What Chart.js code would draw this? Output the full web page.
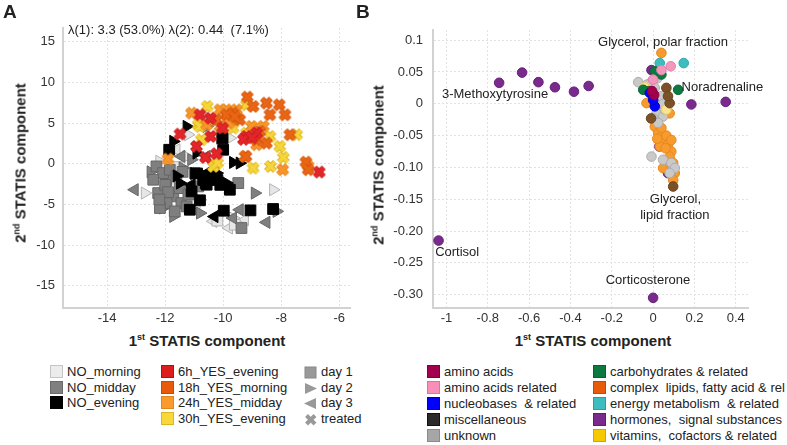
<!DOCTYPE html>
<html>
<head>
<meta charset="utf-8">
<script src="https://cdn.jsdelivr.net/npm/chart.js@4.4.1/dist/chart.umd.min.js"></script>
<style>
body { margin: 0; background: #fff; font-family: "Liberation Sans", Arial, sans-serif; color: #222; }
#wrap { position: relative; width: 787px; height: 445px; overflow: hidden; }
canvas, .abs { position: absolute; }
.panel { font-weight: bold; font-size: 19px; }
.atitle { font-weight: bold; font-size: 15px; white-space: nowrap; }
.atitle sup { font-size: 9px; vertical-align: 6px; line-height: 0; }
.vt { transform: translate(-50%, -50%) rotate(-90deg); }
.ht { transform: translate(-50%, -50%); }
.leg { font-size: 13px; white-space: pre; line-height: 16px; }
.sw { display: inline-block; width: 11px; height: 11px; border: 1px solid; vertical-align: -2px; margin-right: 4px; }
.leg svg { vertical-align: -3px; margin-right: 3px; }
</style>
</head>
<body>
<div id="wrap">
  <canvas id="chartA" width="390" height="330" style="left:0;top:0"></canvas>
  <canvas id="chartB" width="397" height="330" style="left:390px;top:0"></canvas>
  <div class="abs panel" style="left:3px;top:1px">A</div>
  <div class="abs panel" style="left:356px;top:1px">B</div>
  <div class="abs" style="left:68px;top:22px;font-size:13px;white-space:pre">λ(1): 3.3 (53.0%) λ(2): 0.44  (7.1%)</div>
  <div class="abs atitle ht" style="left:207px;top:340px">1<sup>st</sup> STATIS component</div>
  <div class="abs atitle ht" style="left:593px;top:340px">1<sup>st</sup> STATIS component</div>
  <div class="abs atitle vt" style="left:20px;top:163px">2<sup>nd</sup> STATIS component</div>
  <div class="abs atitle vt" style="left:378px;top:165px">2<sup>nd</sup> STATIS component</div>
  <div id="legends"></div>
</div>
<script>
// ---- panel A: ticks
const xTicksA = [-14, -12, -10, -8, -6];
const yTicksA = [-15, -10, -5, 0, 5, 10, 15];

// ---- panel A: controls (day 1 = square, day 2 = right triangle, day 3 = left triangle)
const noMorningDay1 = [[-11.95,-1.97],[-10.98,-4.84],[-10.2,-7.0],[-9.6,-7.5],[-11.6,-0.4]];
const noMorningDay2 = [[-12.7,-3.61],[-11.21,3.57],[-9.77,3.16],[-8.28,-3.2],[-11.26,0.9],[-10.92,-1.15],[-9.66,-6.68],[-10.8,-4.43],[-12.2,0.3]];
const noMorningDay3 = [[-11.61,1.72],[-10.34,-7.09],[-9.25,-6.89],[-9.8,-7.9]];
const noMiddayDay1 = [[-12.3,-0.33],[-12.07,-1.15],[-11.84,-0.74],[-11.61,-1.56],[-12.41,-1.97],[-12.24,-3.61],[-11.72,-4.02],[-11.95,-4.84],[-11.44,-4.84],[-11.26,-5.25],[-12.18,-5.45],[-11.67,-5.86],[-10.86,-2.79],[-10.98,-1.15],[-9.48,-2.38],[-9.37,-7.91],[-12.0,-2.6],[-11.5,-3.0],[-11.2,-3.8],[-11.9,-3.5],[-12.2,-4.4],[-11.4,-1.0]];
const noMiddayDay2 = [[-10.57,4.59],[-10.11,3.16],[-8.91,-3.61],[-8.16,-5.86],[-12.07,-5.45],[-10.8,-6.07],[-11.72,-6.48],[-12.5,-1.0],[-11.4,-0.5],[-11.1,0.5]];
const noMiddayDay3 = [[-13.05,-3.2],[-9.43,-5.66],[-8.51,-7.21],[-9.66,-6.68],[-11.44,0.9],[-10.57,0.9],[-11.9,-2.0]];
const noEveningDay1 = [[-10.02,3.16],[-10.0,1.72],[-11.86,1.72],[-10.34,-1.15],[-10.5,-1.5],[-10.2,-2.0],[-10.6,-2.4],[-10.1,-2.6],[-11.09,-3.4],[-11.15,-5.66],[-9.77,-3.2],[-9.98,-5.78],[-9.06,-5.74],[-8.28,-5.57],[-10.8,-4.5],[-10.69,-2.0],[-10.57,-2.58],[-10.9,-1.2]];
const noEveningDay2 = [[-11.26,4.59],[-11.72,2.75],[-10.92,1.31],[-9.66,0.16],[-9.43,0.08],[-11.49,-2.38],[-10.23,-1.15],[-9.89,-2.38],[-11.0,-1.2],[-11.6,-1.5]];
const noEveningDay3 = [[-10.57,-1.15],[-11.09,-2.58],[-10.3,-6.5]];

// ---- panel A: treated (crosses)
const yes6hEvening = [[-10.8,6.02],[-10.44,5.61],[-11.49,3.65],[-10.43,3.36],[-10.92,2.13],[-10.61,0.78],[-10.23,1.23],[-10.02,4.39],[-9.2,3.36],[-8.85,3.77],[-6.69,-1.02],[-9.3,3.0],[-9.0,3.2]];
const yes18hMorning = [[-9.17,8.2],[-8.51,7.46],[-8.07,7.25],[-7.87,6.02],[-8.39,6.02],[-8.97,7.05],[-9.66,6.23],[-9.43,5.41],[-8.74,3.98],[-8.85,2.95],[-8.51,2.54],[-9.22,0.9],[-7.15,0.2],[-7.07,-0.74],[-7.7,3.57],[-9.89,6.02],[-10.23,5.41],[-9.6,5.8]];
const yes24hMidday = [[-11.09,6.23],[-10.11,6.64],[-9.89,6.64],[-9.54,5.61],[-9.71,5.41],[-10.11,4.59],[-9.02,4.59],[-8.62,4.59],[-8.85,2.34],[-9.25,0.9],[-7.95,-0.74],[-11.9,0.57],[-10.57,4.8],[-9.54,6.64],[-7.07,-0.3],[-9.8,5.0]];
const yes30hEvening = [[-10.55,7.05],[-10.86,4.8],[-10.8,4.59],[-10.75,2.95],[-9.2,7.25],[-9.2,3.77],[-9.02,3.77],[-9.66,4.39],[-8.39,3.36],[-8.05,2.13],[-7.93,0.78],[-7.47,3.57],[-8.97,-0.53],[-8.37,-0.33],[-10.34,-0.33],[-10.2,0.1]];

const groupsA = ['NO_morning', 'NO_midday', 'NO_evening', '6h_YES_evening', '18h_YES_morning', '24h_YES_midday', '30h_YES_evening'];
const shapesA = ['day 1', 'day 2', 'day 3', 'treated'];

// ---- panel B
const xTicksB = [-1, -0.8, -0.6, -0.4, -0.2, 0, 0.2, 0.4];
const xLabelsB = ['-1', '-0.8', '-0.6', '-0.4', '-0.2', '0', '0.2', '0.4'];
const yTicksB = [0.1, 0.05, 0, -0.05, -0.1, -0.15, -0.2, -0.25, -0.3];
const yLabelsB = ['0.1', '0.05', '0', '-0.05', '-0.10', '-0.15', '-0.20', '-0.25', '-0.30'];

const classesB = ['amino acids', 'amino acids related', 'nucleobases  & related', 'miscellaneous', 'unknown',
  'carbohydrates & related', 'complex  lipids, fatty acid & rel', 'energy metabolism  & related', 'hormones,  signal substances', 'vitamins,  cofactors & related'];

const aminoAcids = [[0.005,0.014],[-0.005,0.02]];
const aminoRelated = [[0.085,0.059],[0,0.038],[0.04,0.053]];
const nucleobases = [[0.008,-0.004],[0,0.006],[-0.016,0.017]];
const miscellaneous = [[0.064,0.025],[0.08,0.001],[-0.01,-0.023],[0.097,-0.13],[0.072,0.012],[-0.02,0.02]];
const unknown = [[-0.072,0.034],[0.032,0.051],[0.016,0.006],[0.032,-0.004],[0.016,-0.015],[0.048,-0.02],[-0.008,-0.083],[0.048,-0.088],[0.088,-0.093],[0.105,-0.101],[0.08,-0.109],[0.04,0.012],[0.008,0.025],[0.056,-0.009],[0,-0.023],[0.024,-0.03],[0.02,0.04],[-0.03,0.03],[0.05,0.0]];
const carbohydrates = [[-0.048,0.022],[0.121,0.022],[0.04,0.046],[0.008,0.051]];
const complexLipids = [[0.04,0.08],[-0.032,0.001],[0.008,-0.036],[0.024,-0.046],[0.048,-0.057],[0.064,-0.05],[0.032,-0.067],[0.072,-0.064],[0.088,-0.075],[0.08,-0.083],[0.097,-0.093],[0.048,-0.101],[0.105,-0.109],[0.097,-0.12],[0.08,-0.015],[-0.016,0.032],[0.016,-0.025],[0.04,-0.038],[0.088,-0.057],[0.06,-0.07],[0.02,-0.055],[0.09,-0.1]];
const energy = [[0.032,0.064],[0.148,0.064]];
const hormones = [[-1.038,-0.215],[0,-0.305],[-0.745,0.033],[-0.634,0.049],[-0.555,0.034],[-0.475,0.026],[-0.383,0.019],[-0.312,0.028],[0.185,-0.001],[0.351,0.003],[-0.008,0.053],[0.03,-0.067],[0.072,-0.109]];
const vitamins = [[-0.04,0.026],[0.064,-0.009]];

// named metabolites in panel B (text centre)
const noteTexts = ['Glycerol, polar fraction', '3-Methoxytyrosine', 'Noradrenaline', 'Glycerol,', 'lipid fraction', 'Cortisol', 'Corticosterone'];
const noteX = [0.048, -0.765, 0.335, 0.108, 0.105, -0.948, -0.025];
const noteY = [0.096, 0.014, 0.025, -0.151, -0.175, -0.233, -0.278];

// ---------------------------------------------------------------
const FONT = 'Liberation Sans';

function pts(arr) { return arr.map(p => ({x: p[0], y: p[1]})); }

function crossImg(fill, edge) {
  const c = document.createElement('canvas');
  c.width = c.height = 15;
  const g = c.getContext('2d');
  [[edge, 5.6], [fill, 3.8]].forEach(([col, w]) => {
    g.strokeStyle = col; g.lineWidth = w; g.beginPath();
    g.moveTo(3, 3); g.lineTo(12, 12); g.moveTo(12, 3); g.lineTo(3, 12); g.stroke();
  });
  return c;
}

function axis(min, max, ticks, labels, isX, fit, pad) {
  return {
    type: 'linear', min: min, max: max,
    afterBuildTicks: s => { s.ticks = ticks.map(v => ({value: v})); },
    afterFit: s => { if (isX) s.height = fit; else s.width = fit; },
    grid: {color: '#e2e2e2', drawTicks: false, lineWidth: 1},
    border: {color: '#d2d2d2', width: 2, dash: [2, 2]},
    ticks: {color: '#333', font: {size: 13, family: FONT}, padding: pad, autoSkip: false, maxRotation: 0,
      callback: (v, i) => labels[i]}
  };
}

// ---- chart A datasets
const fillA = ['#e6e6e6', '#7f7f7f', '#000000'];
const edgeA = ['#b3b3b3', '#666666', '#000000'];
const controls = [
  [noMorningDay1, noMorningDay2, noMorningDay3],
  [noMiddayDay1, noMiddayDay2, noMiddayDay3],
  [noEveningDay1, noEveningDay2, noEveningDay3]
];
const dsA = [];
controls.forEach((days, gi) => {
  days.forEach((d, di) => {
    dsA.push({
      label: groupsA[gi] + ' ' + shapesA[di],
      data: pts(d),
      pointStyle: di === 0 ? 'rect' : 'triangle',
      rotation: di === 1 ? 90 : (di === 2 ? -90 : 0),
      pointRadius: di === 0 ? 7.6 : 7,
      backgroundColor: fillA[gi],
      borderColor: edgeA[gi],
      borderWidth: 1,
      order: 3 - gi
    });
  });
});
const treated = [yes6hEvening, yes18hMorning, yes24hMidday, yes30hEvening];
const crossFill = ['#e3262a', '#ea6614', '#f7962a', '#f6d53a'];
const crossEdge = ['#c41d1d', '#cf540e', '#e0821c', '#dbb41e'];
treated.forEach((d, i) => {
  dsA.push({
    label: groupsA[i + 3],
    data: pts(d),
    pointStyle: crossImg(crossFill[i], crossEdge[i]),
    pointRadius: 7,
    order: 0
  });
});

new Chart(document.getElementById('chartA'), {
  type: 'scatter',
  data: {datasets: dsA},
  options: {
    responsive: false,
    animation: false,
    layout: {padding: {left: 0, right: 40, top: 28, bottom: 0}},
    plugins: {legend: {display: false}, tooltip: {enabled: false}},
    scales: {
      x: axis(-15.52, -5.63, xTicksA, xTicksA.map(String), true, 22, 3),
      y: axis(-17.75, 16.7, yTicksA, yTicksA.map(String), false, 63, 8)
    }
  }
});

// ---- chart B datasets
const seriesB = [aminoAcids, aminoRelated, nucleobases, miscellaneous, unknown, carbohydrates, complexLipids, energy, hormones, vitamins];
const pointFillB = ['#a3004d', '#f497bd', '#0000ff', '#7b5128', '#c9c9c9', '#0a7a40', '#f89b2e', '#3dbdbd', '#7a2a8c', '#fbe48e'];
const pointEdgeB = ['#8a0040', '#e07fa8', '#0000cc', '#6a4420', '#adadad', '#086633', '#e5891f', '#2fa8a8', '#66207a', '#e8cc70'];
const orderB = [0, 1, 0, 3, 4, 2, 5, 2, 7, 3];
const dsB = seriesB.map((d, i) => ({
  label: classesB[i],
  data: pts(d),
  pointStyle: 'circle',
  pointRadius: 4.8,
  backgroundColor: pointFillB[i],
  borderColor: pointEdgeB[i],
  borderWidth: 1,
  order: orderB[i]
}));

const notesPlugin = {
  id: 'notes',
  afterDatasetsDraw(chart) {
    const {ctx, scales: {x, y}} = chart;
    ctx.save();
    ctx.font = '13px "' + FONT + '"';
    ctx.fillStyle = '#222';
    ctx.textAlign = 'center';
    ctx.textBaseline = 'middle';
    noteTexts.forEach((t, i) => ctx.fillText(t, x.getPixelForValue(noteX[i]), y.getPixelForValue(noteY[i])));
    ctx.restore();
  }
};

new Chart(document.getElementById('chartB'), {
  type: 'scatter',
  data: {datasets: dsB},
  options: {
    responsive: false,
    animation: false,
    clip: false,
    layout: {padding: {left: 0, right: 39, top: 30, bottom: 0}},
    plugins: {legend: {display: false}, tooltip: {enabled: false}},
    scales: {
      x: axis(-1.065, 0.459, xTicksB, xLabelsB, true, 22, 3),
      y: axis(-0.321, 0.116, yTicksB, yLabelsB, false, 43, 10)
    }
  },
  plugins: [notesPlugin]
});

// ---- legends (HTML)
const legendA = [
  {text: groupsA[0], col: 0, row: 0, fill: '#ececec', edge: '#c4c4c4'},
  {text: groupsA[1], col: 0, row: 1, fill: '#808080', edge: '#6a6a6a'},
  {text: groupsA[2], col: 0, row: 2, fill: '#000000', edge: '#000000'},
  {text: groupsA[3], col: 1, row: 0, fill: '#dd1c1c', edge: '#b01212'},
  {text: groupsA[4], col: 1, row: 1, fill: '#e8590c', edge: '#c84a08'},
  {text: groupsA[5], col: 1, row: 2, fill: '#f99b2c', edge: '#e0841c'},
  {text: groupsA[6], col: 1, row: 3, fill: '#f7d838', edge: '#dcb820'}
];
const colXA = [50, 161];
const rowYA = [372, 388, 403, 419];
const shapeSvg = [
  '<rect x="1" y="1" width="11" height="11" fill="#999" stroke="#888"/>',
  '<polygon points="1,1 13,6.5 1,12" fill="#999"/>',
  '<polygon points="12,1 0,6.5 12,12" fill="#999"/>',
  '<path d="M2.5 2.5 L11 11 M11 2.5 L2.5 11" stroke="#999" stroke-width="4"/>'
];
const legWrap = document.getElementById('legends');
function addItem(html, left, cy) {
  const d = document.createElement('div');
  d.className = 'abs leg';
  d.style.left = left + 'px';
  d.style.top = (cy - 8) + 'px';
  d.innerHTML = html;
  legWrap.appendChild(d);
}
legendA.forEach(it => {
  addItem('<span class="sw" style="background:' + it.fill + ';border-color:' + it.edge + '"></span>' + it.text, colXA[it.col], rowYA[it.row]);
});
shapesA.forEach((s, i) => {
  addItem('<svg width="14" height="13">' + shapeSvg[i] + '</svg>' + s, 304, rowYA[i]);
});

const legendFillB = ['#a3004d', '#f78fb8', '#0000ff', '#2a2a2a', '#a6a6a6', '#0a7a40', '#e65c0a', '#3dbdbd', '#7a2a8c', '#f5c800'];
const legendEdgeB = ['#80003c', '#e070a0', '#0000c0', '#111111', '#8a8a8a', '#066030', '#c04a06', '#2a9f9f', '#5e1e70', '#d0a800'];
const rowYB = [372, 388, 404, 420, 436];
classesB.forEach((c, i) => {
  const col = i < 5 ? 0 : 1;
  addItem('<span class="sw" style="background:' + legendFillB[i] + ';border-color:' + legendEdgeB[i] + '"></span>' + c,
    col === 0 ? 427 : 593, rowYB[i % 5]);
});
</script>
</body>
</html>
